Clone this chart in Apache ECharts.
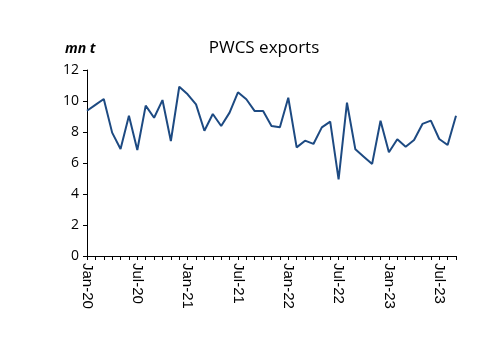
<!DOCTYPE html>
<html><head><meta charset="utf-8">
<script src="https://cdn.jsdelivr.net/npm/echarts@6/dist/echarts.min.js"></script>
<style>html,body{margin:0;padding:0;background:#fff}#c{width:500px;height:353px}</style>
</head><body><div id="c"></div>
<script>
const months = ["Jan","Feb","Mar","Apr","May","Jun","Jul","Aug","Sep","Oct","Nov","Dec"];
const categories = [];
for (let y = 20; y <= 23; y++) for (let m = 0; m < 12; m++) { if (y === 23 && m > 8) break; categories.push(months[m] + "-" + y); }
const exportsValues = [
  9.37, 9.75, 10.13, 7.96, 6.9, 9.05, 6.84, 9.7, 8.92, 10.06, 7.42, 10.92,
  10.43, 9.78, 8.08, 9.16, 8.39, 9.25, 10.56, 10.11, 9.35, 9.35, 8.39, 8.3,
  10.21, 7.01, 7.44, 7.23, 8.3, 8.67, 4.95, 9.89, 6.88, 6.41, 5.94, 8.73,
  6.69, 7.53, 7.05, 7.48, 8.52, 8.73, 7.55, 7.16, 9.05
];
const yTicks = [0, 2, 4, 6, 8, 10, 12];
const chart = echarts.init(document.getElementById('c'), null, {renderer: 'canvas'});
chart.setOption({
  animation: false,
  backgroundColor: '#fff',
  title: [
    {text: 'PWCS exports', left: 259, top: 35, textAlign: 'center',
     textStyle: {fontFamily: 'Open Sans', fontSize: 17, fontWeight: 'normal', color: '#000'}},
    {text: 'mn t', left: 60, top: 37,
     textStyle: {fontFamily: 'Open Sans', fontSize: 14, fontWeight: 'bold', fontStyle: 'italic', color: '#000'}}
  ],
  grid: {left: 87, right: 44, top: 70, bottom: 97, containLabel: false},
  xAxis: {
    type: 'category', data: categories, boundaryGap: false,
    axisLine: {lineStyle: {color: '#000', width: 1}},
    axisTick: {show: true, interval: 0, length: 4, lineStyle: {color: '#000'}},
    axisLabel: {interval: 5, rotate: -90, margin: 7, color: '#000', fontFamily: 'Liberation Sans', fontSize: 15},
    splitLine: {show: false}
  },
  yAxis: {
    type: 'value', min: yTicks[0], max: yTicks[yTicks.length - 1], interval: 2,
    axisLine: {show: true, lineStyle: {color: '#000', width: 1}},
    axisTick: {show: true, length: 4, lineStyle: {color: '#000'}},
    axisLabel: {color: '#000', fontFamily: 'Open Sans', fontSize: 14, margin: 8},
    splitLine: {show: false}
  },
  series: [{
    type: 'line', data: exportsValues, symbol: 'none',
    lineStyle: {color: '#1d4a82', width: 2}
  }]
});
</script></body></html>
